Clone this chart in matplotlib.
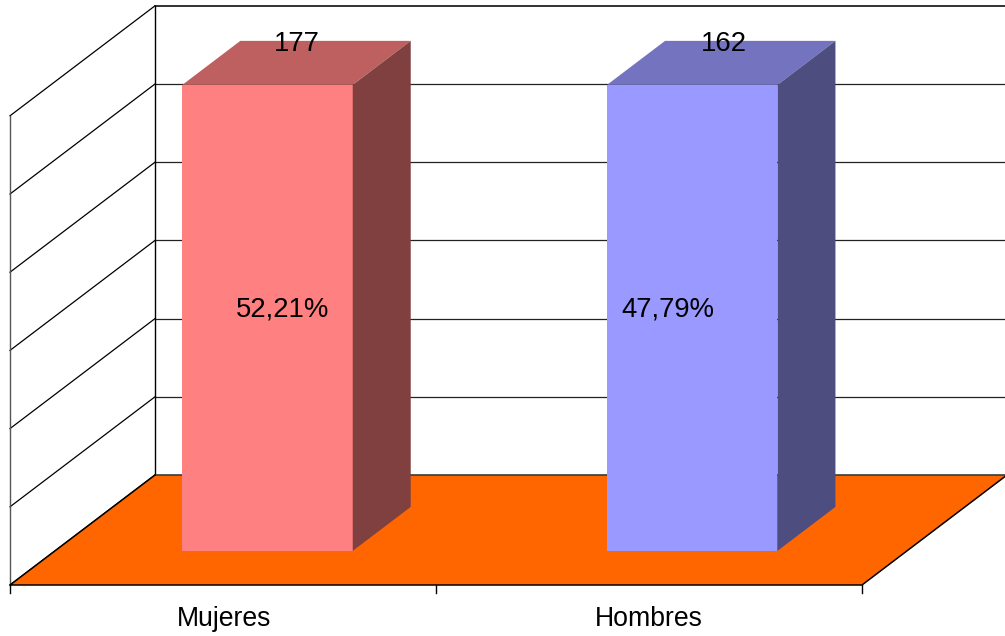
import matplotlib
matplotlib.use('Agg')
import matplotlib.pyplot as plt
from matplotlib.patches import Polygon

# data
categories = ['Mujeres', 'Hombres']
counts = [177, 162]
shares = ['52,21%', '47,79%']
bar_values = [100, 100]
axis_step = 16.78
n_grid = 6

# colours: front, top, side
face_colors = [('#FF8080', '#BF6060', '#804040'), ('#9999FF', '#7373BF', '#4D4D80')]
floor_color = '#FF6600'

# oblique projection, pixels per unit
X0, Y0 = 10, 585
CAT_W = 426
DEPTH_X, DEPTH_Y = 145, 110
UNIT_Y = 78.2 / axis_step
BAR_W = 0.4
BAR_SHIFT = [-0.001, -0.004]
BAR_Z0, BAR_Z1 = 0.31, 0.71


def proj(x, y, z=0.0):
    return (X0 + x * CAT_W + z * DEPTH_X, Y0 - y * UNIT_Y - z * DEPTH_Y)


plt.rcParams['font.family'] = ['Liberation Sans', 'DejaVu Sans']
fig = plt.figure(figsize=(10.05, 6.36), dpi=100)
ax = fig.add_axes([0, 0, 1, 1])
ax.set_xlim(0, 1005)
ax.set_ylim(636, 0)
ax.axis('off')

n_cat = len(categories)

# walls and gridlines
for i in range(n_grid + 1):
    v = i * axis_step
    lw = 1.3 if i == n_grid else 0.9
    ax.plot(*zip(proj(0, v, 0), proj(0, v, 1)), color='black', lw=0.9, zorder=1)
    ax.plot(*zip(proj(0, v, 1), proj(n_cat, v, 1)), color='#222222', lw=lw, zorder=1)
top = n_grid * axis_step
ax.plot(*zip(proj(0, 0, 1), proj(0, top, 1)), color='black', lw=1.0, zorder=1)
ax.plot(*zip(proj(0, 0, 0), proj(0, top, 0)), color='#555555', lw=1.0, zorder=1)

# floor
floor = [proj(0, 0, 0), proj(n_cat, 0, 0), proj(n_cat, 0, 1), proj(0, 0, 1)]
ax.add_patch(Polygon(floor, closed=True, fc=floor_color, ec='none', zorder=2))
ax.plot(*zip(proj(0, 0, 1), proj(0, 0, 0), proj(n_cat, 0, 0), proj(n_cat, 0, 1)),
        color='black', lw=1.1, zorder=3)
ax.plot(*zip(proj(0, 0, 1), proj(n_cat, 0, 1)), color='#333333', lw=1.1, zorder=2.5)

# category ticks
for i in range(n_cat + 1):
    px, py = proj(i, 0, 0)
    ax.plot([px, px], [py, py + 8], color='black', lw=1.0, zorder=3)

# bars
for i, v in enumerate(bar_values):
    x0 = i + 0.5 - BAR_W / 2 + BAR_SHIFT[i]
    x1 = i + 0.5 + BAR_W / 2 + BAR_SHIFT[i]
    front, top_c, side = face_colors[i]
    ax.add_patch(Polygon([proj(x0, 0, BAR_Z0), proj(x1, 0, BAR_Z0),
                          proj(x1, v, BAR_Z0), proj(x0, v, BAR_Z0)],
                         closed=True, fc=front, ec='none', zorder=4))
    ax.add_patch(Polygon([proj(x0, v, BAR_Z0), proj(x1, v, BAR_Z0),
                          proj(x1, v, BAR_Z1), proj(x0, v, BAR_Z1)],
                         closed=True, fc=top_c, ec='none', zorder=4))
    ax.add_patch(Polygon([proj(x1, 0, BAR_Z0), proj(x1, 0, BAR_Z1),
                          proj(x1, v, BAR_Z1), proj(x1, v, BAR_Z0)],
                         closed=True, fc=side, ec='none', zorder=4))

# texts
count_dx = [74, 75]
share_dx = [60, 19]
cat_dx = [1, 0]
fs = 19.8
for i, cat in enumerate(categories):
    px, py = proj(i + 0.5, 0, 0)
    ax.text(px + cat_dx[i], 626, cat, ha='center', va='baseline', fontsize=19.2, color='black', zorder=6)
    ax.text(px + count_dx[i], 51, str(counts[i]), ha='center', va='baseline',
            fontsize=fs, color='black', zorder=6)
    ax.text(px + share_dx[i], 316, shares[i], ha='center', va='baseline',
            fontsize=fs, color='black', zorder=6)

fig.savefig('out.png', dpi=100)
